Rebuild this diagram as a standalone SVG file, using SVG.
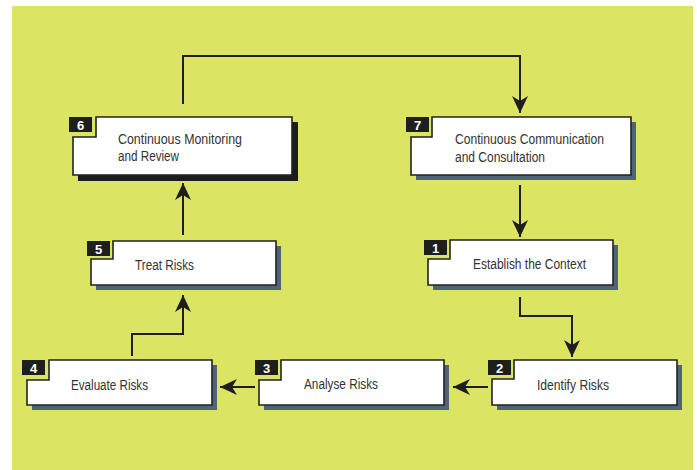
<svg xmlns="http://www.w3.org/2000/svg" width="697" height="470" viewBox="0 0 697 470">
<defs>
<style>
.bg{fill:#dbe463}
.box{fill:#ffffff;stroke:#222222;stroke-width:1.6}
.sh{fill:#4f6577}
.sh6{fill:#1c1c1c}
.badge{fill:#1e1e1e}
.num{font-family:"Liberation Sans",Arial,sans-serif;font-weight:bold;font-size:13px;fill:#ffffff;text-anchor:middle}
.lbl{font-family:"Liberation Sans",Arial,sans-serif;font-size:14px;fill:#333333}
.con{fill:none;stroke:#1e1e1e;stroke-width:2}
</style>
<marker id="ah" markerUnits="userSpaceOnUse" markerWidth="18" markerHeight="18" viewBox="0 0 18 16" refX="17" refY="8" orient="auto">
<path d="M17,8 L0,0 L5,8 L0,16 Z" fill="#1e1e1e"/>
</marker>
</defs>
<rect x="0" y="0" width="697" height="470" fill="#ffffff"/>
<rect class="bg" x="12" y="6" width="681" height="464"/>

<g id="connectors">
<path class="con" d="M183,104 V56 H520 V113" marker-end="url(#ah)"/>
<path class="con" d="M520,185 V237" marker-end="url(#ah)"/>
<path class="con" d="M520,297 V316 H572 V357" marker-end="url(#ah)"/>
<path class="con" d="M488,387 H453" marker-end="url(#ah)"/>
<path class="con" d="M255,387 H220" marker-end="url(#ah)"/>
<path class="con" d="M132,356 V334 H183 V295" marker-end="url(#ah)"/>
<path class="con" d="M183,235 V183" marker-end="url(#ah)"/>
</g>

<g id="node6">
<path class="sh6" d="M101,122 H298 V181 H78 V142 H101 Z"/>
<path class="box" d="M96,117 H292 V175 H73 V137 H96 Z"/>
<rect class="badge" x="69" y="117" width="23" height="15"/>
<text class="num" x="80.5" y="129.5">6</text>
<text class="lbl" x="118" y="144" textLength="124" lengthAdjust="spacingAndGlyphs">Continuous Monitoring</text>
<text class="lbl" x="118" y="161" textLength="61" lengthAdjust="spacingAndGlyphs">and Review</text>
</g>

<g id="node7">
<path class="sh" d="M437,122 H636 V180 H416 V142 H437 Z"/>
<path class="box" d="M432,117 H631 V175 H411 V137 H432 Z"/>
<rect class="badge" x="406" y="117" width="23" height="15"/>
<text class="num" x="417.5" y="129.5">7</text>
<text class="lbl" x="455" y="144" textLength="149" lengthAdjust="spacingAndGlyphs">Continuous Communication</text>
<text class="lbl" x="455" y="162" textLength="90" lengthAdjust="spacingAndGlyphs">and Consultation</text>
</g>

<g id="node1">
<path class="sh" d="M455,245 H618 V290 H433 V264 H455 Z"/>
<path class="box" d="M450,240 H613 V285 H428 V259 H450 Z"/>
<rect class="badge" x="424" y="240" width="23" height="15"/>
<text class="num" x="435.5" y="252.5">1</text>
<text class="lbl" x="473" y="269" textLength="113" lengthAdjust="spacingAndGlyphs">Establish the Context</text>
</g>

<g id="node5">
<path class="sh" d="M118,246 H281 V290 H96 V264 H118 Z"/>
<path class="box" d="M113,241 H276 V285 H91 V259 H113 Z"/>
<rect class="badge" x="87" y="241" width="23" height="15"/>
<text class="num" x="98.5" y="253.5">5</text>
<text class="lbl" x="135" y="270" textLength="59" lengthAdjust="spacingAndGlyphs">Treat Risks</text>
</g>

<g id="node4">
<path class="sh" d="M54,365 H217 V410 H32 V385 H54 Z"/>
<path class="box" d="M49,360 H212 V405 H27 V380 H49 Z"/>
<rect class="badge" x="22" y="360" width="23" height="15"/>
<text class="num" x="33.5" y="372.5">4</text>
<text class="lbl" x="71" y="390" textLength="77" lengthAdjust="spacingAndGlyphs">Evaluate Risks</text>
</g>

<g id="node3">
<path class="sh" d="M286,365 H449 V410 H264 V385 H286 Z"/>
<path class="box" d="M281,360 H444 V405 H259 V380 H281 Z"/>
<rect class="badge" x="255" y="360" width="23" height="15"/>
<text class="num" x="266.5" y="372.5">3</text>
<text class="lbl" x="304" y="389" textLength="74" lengthAdjust="spacingAndGlyphs">Analyse Risks</text>
</g>

<g id="node2">
<path class="sh" d="M519,365 H682 V410 H497 V384 H519 Z"/>
<path class="box" d="M514,360 H677 V405 H492 V379 H514 Z"/>
<rect class="badge" x="488" y="360" width="23" height="15"/>
<text class="num" x="499.5" y="372.5">2</text>
<text class="lbl" x="537" y="390" textLength="72" lengthAdjust="spacingAndGlyphs">Identify Risks</text>
</g>
</svg>
